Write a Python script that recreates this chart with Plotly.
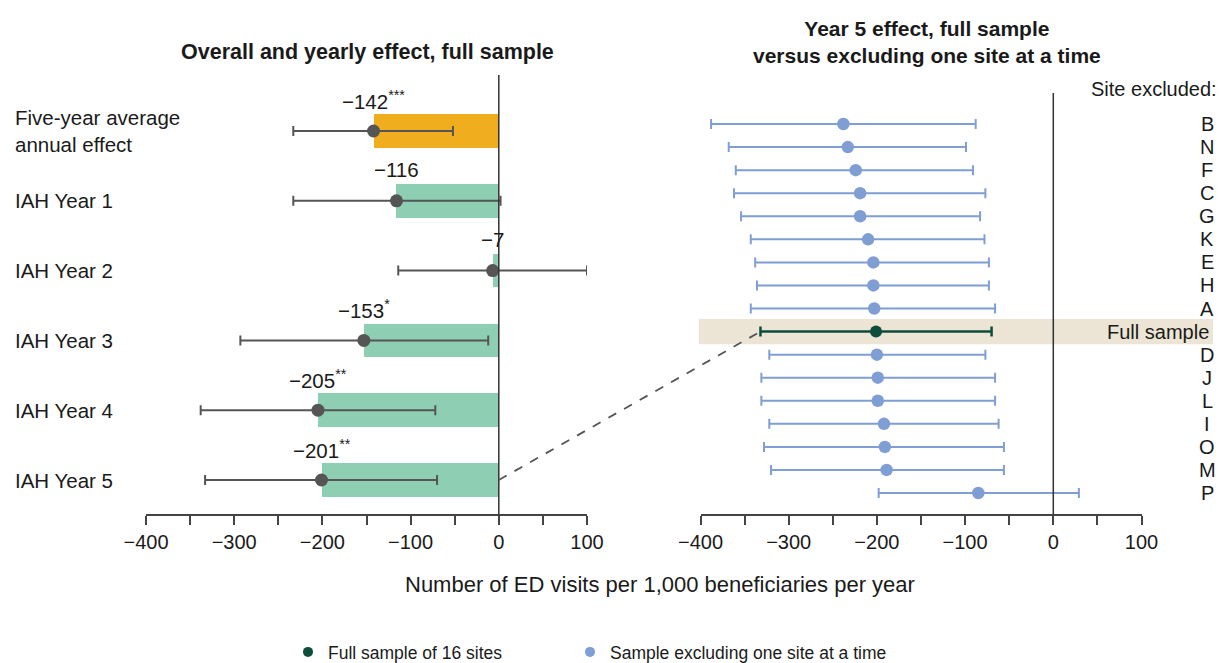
import plotly.graph_objects as go

# ---------------- data ----------------
left_labels = ["Five-year average<br>annual effect", "IAH Year 1", "IAH Year 2",
               "IAH Year 3", "IAH Year 4", "IAH Year 5"]
left_values = [-142, -116, -7, -153, -205, -201]
left_lo = [-233, -233, -114, -293, -338, -333]
left_hi = [-52, 2, 100, -12, -72, -70]
left_text = ["−142<sup>***</sup>", "−116", "−7", "−153<sup>*</sup>", "−205<sup>**</sup>", "−201<sup>**</sup>"]

sites = ["B", "N", "F", "C", "G", "K", "E", "H", "A", "Full sample",
         "D", "J", "L", "I", "O", "M", "P"]
site_values = [-238, -233, -224, -219, -219, -210, -204, -204, -203, -201,
               -200, -199, -199, -192, -191, -189, -85]
site_lo = [-388, -368, -360, -362, -354, -343, -338, -336, -343, -332,
           -322, -331, -331, -322, -328, -320, -198]
site_hi = [-88, -99, -91, -77, -83, -78, -73, -73, -66, -70,
           -77, -66, -66, -62, -56, -56, 29]

major_ticks = [-400, -300, -200, -100, 0, 100]
major_text = ["−400", "−300", "−200", "−100", "0", "100"]
minor_ticks = [-350, -250, -150, -50, 50]

# ---------------- style ----------------
W, H = 1222, 663
FONT = "Liberation Sans Narrow, Arial Narrow, Liberation Sans, Arial, sans-serif"
ORANGE = "#F0AE1F"
GREEN = "#8ECFB3"
GREY = "#555555"
BLUE = "#7F9ED3"
DKGREEN = "#0C4E3A"
BEIGE = "#ECE5D5"
TXT = "#1a1a1a"

def px_x(p):
    return p / W

def px_y(p):
    return (H - p) / H

L_X0, L_X1 = 146, 587
R_X0, R_X1 = 700.5, 1141.5
Y_TOP, Y_BOT = 78, 515
X_RANGE = [-400, 100]

def yrange_for(first_px, last_px, n_last):
    span = (Y_BOT - Y_TOP) * n_last / (last_px - first_px)
    top = -(first_px - Y_TOP) * span / (Y_BOT - Y_TOP)
    return [top + span, top]

L_RANGE = yrange_for(131, 480, 5)
R_RANGE = yrange_for(124, 493, 16)

def data_to_paper(xv, yv, xpx, yrange):
    fx = (xv - X_RANGE[0]) / (X_RANGE[1] - X_RANGE[0])
    px = xpx[0] + fx * (xpx[1] - xpx[0])
    fy = (yv - yrange[1]) / (yrange[0] - yrange[1])
    py = Y_TOP + fy * (Y_BOT - Y_TOP)
    return px_x(px), px_y(py)

left_rows = list(range(len(left_labels)))
site_rows = list(range(len(sites)))
full_idx = sites.index("Full sample")

fig = go.Figure()

bar_colors = [ORANGE] + [GREEN] * (len(left_values) - 1)
fig.add_trace(go.Bar(
    x=left_values, y=left_rows, orientation="h", width=0.48,
    marker=dict(color=bar_colors, line=dict(width=0)),
    xaxis="x", yaxis="y", showlegend=False, hoverinfo="skip"))

fig.add_trace(go.Scatter(
    x=left_values, y=left_rows, mode="markers",
    marker=dict(color=GREY, size=13),
    error_x=dict(type="data", symmetric=False,
                 array=[h - v for h, v in zip(left_hi, left_values)],
                 arrayminus=[v - l for l, v in zip(left_lo, left_values)],
                 color=GREY, thickness=2, width=5),
    xaxis="x", yaxis="y", showlegend=False))

ex_idx = [i for i in site_rows if i != full_idx]
fig.add_trace(go.Scatter(
    x=[site_values[i] for i in ex_idx], y=ex_idx, mode="markers",
    marker=dict(color=BLUE, size=12.5),
    error_x=dict(type="data", symmetric=False,
                 array=[site_hi[i] - site_values[i] for i in ex_idx],
                 arrayminus=[site_values[i] - site_lo[i] for i in ex_idx],
                 color=BLUE, thickness=2, width=5),
    xaxis="x2", yaxis="y2", showlegend=False))

fig.add_trace(go.Scatter(
    x=[site_values[full_idx]], y=[full_idx], mode="markers",
    marker=dict(color=DKGREEN, size=12),
    error_x=dict(type="data", symmetric=False,
                 array=[site_hi[full_idx] - site_values[full_idx]],
                 arrayminus=[site_values[full_idx] - site_lo[full_idx]],
                 color=DKGREEN, thickness=2.5, width=5),
    xaxis="x2", yaxis="y2", showlegend=False))

fig.add_trace(go.Scatter(x=[None], y=[None], mode="markers", name="Full sample of 16 sites",
                         marker=dict(color=DKGREEN, size=10), xaxis="x2", yaxis="y2",
                         legend="legend"))
fig.add_trace(go.Scatter(x=[None], y=[None], mode="markers", name="Sample excluding one site at a time",
                         marker=dict(color=BLUE, size=10), xaxis="x2", yaxis="y2",
                         legend="legend2"))

xaxis_common = dict(range=X_RANGE, tickvals=major_ticks, ticktext=major_text,
                    showline=True, linecolor="#444444", linewidth=1.5,
                    ticks="outside", ticklen=9, tickwidth=1.5, tickcolor="#444444",
                    minor=dict(tickvals=minor_ticks, ticks="outside", ticklen=9,
                               tickwidth=1.5, tickcolor="#444444", showgrid=False),
                    showgrid=False, zeroline=False, fixedrange=True, automargin=False,
                    tickfont=dict(family=FONT, size=20, color=TXT),
                    anchor="free", position=px_y(Y_BOT))
yaxis_common = dict(showgrid=False, zeroline=False, showticklabels=False,
                    showline=False, ticks="", fixedrange=True, automargin=False,
                    domain=[px_y(Y_BOT), px_y(Y_TOP)])

shapes = []
shapes.append(dict(type="rect", xref="paper", yref="y2",
                   x0=px_x(699), x1=px_x(1213), y0=full_idx - 0.55, y1=full_idx + 0.55,
                   fillcolor=BEIGE, line=dict(width=0), layer="below"))
shapes.append(dict(type="line", xref="x", yref="paper", x0=0, x1=0,
                   y0=px_y(Y_BOT), y1=px_y(75), line=dict(color="#333333", width=1.5)))
shapes.append(dict(type="line", xref="x2", yref="paper", x0=0, x1=0,
                   y0=px_y(Y_BOT), y1=px_y(93), line=dict(color="#333333", width=1.5)))
sx, sy = data_to_paper(0, len(left_rows) - 1, (L_X0, L_X1), L_RANGE)
ex, ey = data_to_paper(site_lo[full_idx], full_idx, (R_X0, R_X1), R_RANGE)
shapes.append(dict(type="line", xref="paper", yref="paper", x0=sx, y0=sy, x1=ex, y1=ey,
                   line=dict(color="#555555", width=1.8, dash="dash")))

annotations = []
for r, lab in zip(left_rows, left_labels):
    annotations.append(dict(xref="paper", yref="y", x=px_x(13), y=r, text=lab,
                            xanchor="left", yanchor="middle", align="left", showarrow=False,
                            font=dict(family=FONT, size=20.5, color=TXT)))
for r, v, t in zip(left_rows, left_values, left_text):
    annotations.append(dict(xref="x", yref="y", x=v, y=r, text=t, yshift=31,
                            xanchor="center", yanchor="middle", showarrow=False,
                            font=dict(family=FONT, size=20.5, color=TXT)))
for r, s in zip(site_rows, sites):
    if s == "Full sample":
        annotations.append(dict(xref="paper", yref="y2", x=px_x(1211), y=r, text=s,
                                xanchor="right", yanchor="middle", showarrow=False,
                                font=dict(family=FONT, size=20, color=TXT)))
    else:
        annotations.append(dict(xref="paper", yref="y2", x=px_x(1207), y=r, text=s,
                                xanchor="center", yanchor="middle", showarrow=False,
                                font=dict(family=FONT, size=20, color=TXT)))
annotations.append(dict(xref="paper", yref="paper", x=px_x(1219), y=px_y(89),
                        text="Site excluded:", xanchor="right", yanchor="middle",
                        showarrow=False, font=dict(family=FONT, size=20, color=TXT)))
annotations.append(dict(xref="paper", yref="paper", x=px_x(367), y=px_y(52),
                        text="<b>Overall and yearly effect, full sample</b>",
                        xanchor="center", yanchor="middle", showarrow=False,
                        font=dict(family=FONT, size=21.5, color=TXT)))
annotations.append(dict(xref="paper", yref="paper", x=px_x(927), y=px_y(42),
                        text="<b>Year 5 effect, full sample<br>versus excluding one site at a time</b>",
                        xanchor="center", yanchor="middle", showarrow=False,
                        font=dict(family=FONT, size=21, color=TXT)))
annotations.append(dict(xref="paper", yref="paper", x=px_x(660), y=px_y(584),
                        text="Number of ED visits per 1,000 beneficiaries per year",
                        xanchor="center", yanchor="middle", showarrow=False,
                        font=dict(family=FONT, size=22, color=TXT)))

legend_common = dict(orientation="h", yanchor="middle", xanchor="left", y=px_y(652),
                     font=dict(family=FONT, size=17.5, color=TXT), bgcolor="rgba(0,0,0,0)")

fig.update_layout(
    template="none",
    width=W, height=H, margin=dict(l=0, r=0, t=0, b=0, pad=0, autoexpand=False),
    paper_bgcolor="white", plot_bgcolor="rgba(0,0,0,0)",
    font=dict(family=FONT, size=18, color=TXT),
    xaxis=dict(domain=[px_x(L_X0), px_x(L_X1)], **xaxis_common),
    xaxis2=dict(domain=[px_x(R_X0), px_x(R_X1)], **xaxis_common),
    yaxis=dict(range=L_RANGE, anchor="x", **yaxis_common),
    yaxis2=dict(range=R_RANGE, anchor="x2", **yaxis_common),
    shapes=shapes, annotations=annotations,
    legend=dict(x=px_x(288), **legend_common),
    legend2=dict(x=px_x(570), **legend_common),
    showlegend=True,
    bargap=0,
)

fig.write_html("out.html")
